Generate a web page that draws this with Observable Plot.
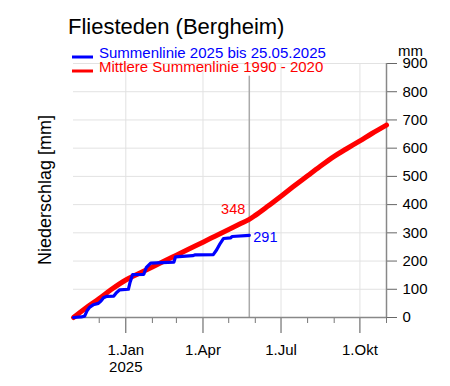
<!DOCTYPE html>
<html><head><meta charset="utf-8">
<script src="https://cdn.jsdelivr.net/npm/d3@7"></script>
<script src="https://cdn.jsdelivr.net/npm/@observablehq/plot@0.6"></script>
<style>
body{margin:0;background:#fff;}
svg{font-family:"Liberation Sans",Arial,Helvetica,sans-serif;}
</style>
</head><body><div id="chart"></div>
<script>
const titleText = "Fliesteden (Bergheim)";
const legendLabels = ["Summenlinie 2025 bis 25.05.2025", "Mittlere Summenlinie 1990 - 2020"];
const legendColors = ["#0000ff", "#ff0000"];
const yLabel = "Niederschlag [mm]";
const unitLabel = "mm";
const xDomain = ["2024-11-01", "2025-11-01"];
const lastDate = "2025-05-25";

const meanDates = ["2024-11-01","2024-11-15","2024-12-01","2024-12-15","2025-01-01","2025-01-15","2025-02-01","2025-02-15","2025-03-01","2025-03-15","2025-04-01","2025-04-15","2025-05-01","2025-05-15","2025-05-25","2025-06-01","2025-06-15","2025-07-01","2025-07-15","2025-08-01","2025-08-15","2025-09-01","2025-09-15","2025-10-01","2025-10-15","2025-11-01"];
const meanValues = [0,33,67,99,133,154,179,200,221,242,267,288,312,333,348,362,393,430,463,502,534,571,597,626,652,682];

const currentDates = ["2024-11-01","2024-11-10","2024-11-14","2024-11-17","2024-11-20","2024-11-24","2024-11-30","2024-12-03","2024-12-06","2024-12-10","2024-12-18","2024-12-21","2024-12-25","2025-01-04","2025-01-06","2025-01-09","2025-01-22","2025-01-25","2025-01-30","2025-02-26","2025-02-28","2025-03-20","2025-03-23","2025-04-13","2025-04-17","2025-04-21","2025-04-25","2025-05-03","2025-05-05","2025-05-25"];
const currentValues = [0,2,5,25,37,45,50,58,70,75,76,88,98,100,125,152,153,178,193,196,215,219,222,223,240,262,280,282,287,291];

const majorTicks = ["2025-01-01","2025-04-01","2025-07-01","2025-10-01"];
const majorTickLabels = ["1.Jan\n2025","1.Apr","1.Jul","1.Okt"];
const minorTicks = ["2024-12-01","2025-02-01","2025-03-01","2025-05-01","2025-06-01","2025-08-01","2025-09-01","2025-11-01"];
const yTicks = [0,100,200,300,400,500,600,700,800,900];

const parse = d => new Date(d + "T00:00:00Z");
const mean = meanDates.map((d, i) => ({date: parse(d), value: meanValues[i]}));
const current = currentDates.map((d, i) => ({date: parse(d), value: currentValues[i]}));
const lastMean = mean.find(d => +d.date === +parse(lastDate));
const lastCurrent = current[current.length - 1];
const labelMap = new Map(majorTicks.map((d, i) => [+parse(d), majorTickLabels[i]]));
const xEnd = parse(xDomain[1]);

const chart = Plot.plot({
  width: 450, height: 386,
  marginLeft: 73, marginRight: 64, marginTop: 63, marginBottom: 69,
  style: {fontFamily: "Liberation Sans, Arial, sans-serif", fontSize: "15px", background: "white", color: "black", overflow: "visible"},
  x: {type: "utc", domain: xDomain.map(parse)},
  y: {domain: [0, 900]},
  marks: [
    Plot.gridY(yTicks, {stroke: "#e2e2e2", strokeOpacity: 1}),
    Plot.gridX(majorTicks.map(parse), {stroke: "#e2e2e2", strokeOpacity: 1}),
    Plot.ruleX([parse(lastDate)], {y1: 0, y2: 855, stroke: "#aaaaaa", strokeWidth: 1.5}),
    Plot.axisY(yTicks, {anchor: "right", tickSize: 10, tickPadding: 6, fontSize: 15, label: null, stroke: "#666"}),
    Plot.axisX(majorTicks.map(parse), {anchor: "bottom", tickSize: 16, tickPadding: 9, fontSize: 15, label: null, stroke: "#555", lineHeight: 1.15, tickFormat: d => labelMap.get(+d)}),
    Plot.axisX(minorTicks.map(parse), {anchor: "bottom", tickSize: 6, tickFormat: () => "", label: null, stroke: "#777"}),
    Plot.ruleY([0], {stroke: "#888", strokeWidth: 1.5}),
    Plot.ruleX([xEnd], {stroke: "#888", strokeWidth: 1.5}),
    Plot.line(mean, {x: "date", y: "value", stroke: "#ff0000", strokeWidth: 5, curve: "monotone-x", strokeLinecap: "round"}),
    Plot.line(current, {x: "date", y: "value", stroke: "#0000ff", strokeWidth: 3.2}),
    Plot.text([lastMean], {x: "date", y: "value", text: d => String(d.value), fill: "#ff0000", textAnchor: "end", dx: -4, dy: -10, fontSize: 14.5}),
    Plot.text([lastCurrent], {x: "date", y: "value", text: d => String(d.value), fill: "#0000ff", textAnchor: "start", dx: 4, dy: 2, fontSize: 14.5})
  ]
});

const svg = d3.select(chart);
svg.append("text").attr("x", 68).attr("y", 34).attr("text-anchor", "start").attr("font-size", 22).attr("fill", "black").text(titleText);
legendLabels.forEach((t, i) => {
  const y = 57 + i * 14;
  svg.append("line").attr("x1", 72).attr("x2", 93).attr("y1", y).attr("y2", y).attr("stroke", legendColors[i]).attr("stroke-width", 3);
  svg.append("text").attr("x", 99).attr("y", y + 0.5).attr("text-anchor", "start").attr("font-size", 15).attr("fill", legendColors[i]).text(t);
});
svg.append("text").attr("x", 398).attr("y", 56).attr("text-anchor", "start").attr("font-size", 15).attr("fill", "black").text(unitLabel);
svg.append("text").attr("transform", "translate(51,190) rotate(-90)").attr("text-anchor", "middle").attr("font-size", 18).attr("fill", "black").text(yLabel);

document.getElementById("chart").appendChild(chart);
</script>
</body></html>
